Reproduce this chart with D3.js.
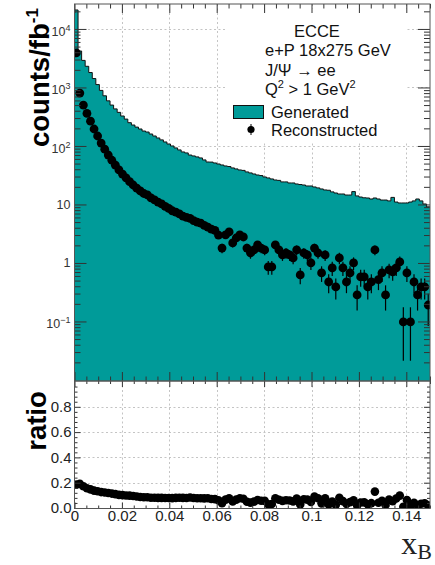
<!DOCTYPE html>
<html><head><meta charset="utf-8">
<script src="https://cdn.jsdelivr.net/npm/d3@7"></script>
<style>body{margin:0;background:#fff}svg{display:block}</style>
</head><body>
<svg id="c" width="435" height="565"></svg>
<script>
// ---------------- data ----------------
const xRange = [0, 0.15];
const nBins = 100;
const generated = [
21100,4200,2900,2300,1800,1420,1120,890,720,590,
500,430,375,325,288,250,228,210,195,180,
173,160,148,137,127,117,108,100,92.5,85.5,
79,76,70,67.5,65,62.4,57.7,53.2,53,51.2,
49.2,47.3,45.5,44.5,42.1,40.5,38.9,38.2,36,34.6,
33.2,31.9,31.2,29.5,28.4,27.3,26.2,25.8,24.3,24.3,
23.3,23.3,22.4,21.9,21.5,20.7,20.7,19.9,19.2,18.4,
17.7,17.5,16.4,15.7,15.1,15.1,14.5,14.5,16.6,14,
13.4,13.0,12.9,12.4,12.9,12.4,11.9,11.9,11.5,13.2,
11,10.6,10.6,10.6,11,11.5,12.4,11.5,10.2,9.1];
const reconstructed = [
3900,800,500,360,265,195,148,112,88,70,
57,47,39,33,28.5,24.5,21.5,19,17,15.4,
14.6,13,12,11,10.2,9.3,8.6,7.8,7.4,6.9,
6.3,6.0,5.8,5.3,5.0,4.8,4.4,4.1,3.8,3.6,
3.0,1.80,3.01,3.39,2.20,2.67,3.01,2.78,1.80,1.48,
1.67,2.03,1.80,1.67,0.855,0.855,2.03,1.67,1.37,1.48,
1.37,1.22,1.67,0.624,1.48,1.37,1.0,1.80,1.48,0.675,
1.37,0.473,0.822,0.389,1.22,0.822,0.473,0.675,1.0,0.284,
0.577,0.577,0.389,0.473,1.67,0.52,0.675,0.284,0.759,0.702,
0.822,1.04,0.098,0.675,0.098,0.473,0.284,0.389,0.389,0.191];
const eventWeight = 0.06;               // per-event weight (fb^-1 normalisation)
const xTickValues = [0,0.02,0.04,0.06,0.08,0.1,0.12,0.14];
const xTickLabels = ["0","0.02","0.04","0.06","0.08","0.1","0.12","0.14"];
const logDecades = [0.1,1,10,100,1000,10000];
const ratioTickValues = [0,0.2,0.4,0.6,0.8];
const ratioTickLabels = ["0.0","0.2","0.4","0.6","0.8"];
const legendTexts = ["ECCE","e+P 18x275 GeV","J/\u03A8 \u2192 ee"];

// ---------------- layout ----------------
const svg = d3.select("#c");
const L = 74.5, R = 430, T0 = 4, T1 = 381, B0 = 381, B1 = 508.5;
const TEAL = "#009b99";
const x = d3.scaleLinear(xRange, [L, R]);
const yTop = d3.scaleLog([0.0096, 26700], [T1, T0]);
const yBot = d3.scaleLinear([0, 1], [508, 381.5]);
const bw = (xRange[1]-xRange[0]) / nBins;
const bins = d3.range(nBins).map(i => ({
  lo: xRange[0] + i*bw, hi: xRange[0] + (i+1)*bw, c: xRange[0] + (i+0.5)*bw,
  g: generated[i], r: reconstructed[i], ratio: reconstructed[i]/generated[i]
}));
const FONT = "'Liberation Sans', Arial, Helvetica, sans-serif";

const defs = svg.append("defs");
defs.append("clipPath").attr("id","clipTop").append("rect").attr("x",L).attr("y",T0).attr("width",R-L).attr("height",T1-T0);
defs.append("clipPath").attr("id","clipBot").append("rect").attr("x",L).attr("y",B0).attr("width",R-L).attr("height",B1-B0);

// ---------------- grids ----------------
const grid = svg.append("g").attr("stroke","#c4c4c4").attr("stroke-width",1).attr("stroke-dasharray","2,2.5");
xTickValues.slice(1).forEach(v => {
  grid.append("line").attr("x1",Math.round(x(v))+0.5).attr("x2",Math.round(x(v))+0.5).attr("y1",T0).attr("y2",T1);
  grid.append("line").attr("x1",Math.round(x(v))+0.5).attr("x2",Math.round(x(v))+0.5).attr("y1",B0).attr("y2",B1);
});
logDecades.forEach(v => grid.append("line").attr("x1",L).attr("x2",R).attr("y1",Math.round(yTop(v))+0.5).attr("y2",Math.round(yTop(v))+0.5));
ratioTickValues.slice(1).forEach(v => grid.append("line").attr("x1",L).attr("x2",R).attr("y1",Math.round(yBot(v))+0.5).attr("y2",Math.round(yBot(v))+0.5));

// legend background (hides grid)
svg.append("rect").attr("x",226).attr("y",9).attr("width",181).attr("height",134).attr("fill","#fff");

// ---------------- histogram ----------------
const topG = svg.append("g").attr("clip-path","url(#clipTop)");
const yBase = yTop.domain()[0];
let pts = [[x(bins[0].lo), yTop(yBase)]];
bins.forEach(b => { pts.push([x(b.lo), yTop(b.g)]); pts.push([x(b.hi), yTop(b.g)]); });
pts.push([x(bins[nBins-1].hi), yTop(yBase)]);
const line = d3.line();
topG.append("path").attr("d", line(pts) + "Z").attr("fill", TEAL).attr("stroke","none");
topG.append("path").attr("d", line(pts.slice(1, -1))).attr("fill","none").attr("stroke","#111").attr("stroke-width",1);

// reconstructed points with errors
const pg = topG.append("g");
bins.forEach(b => {
  const err = Math.sqrt(b.r * eventWeight);
  const lo = Math.max(b.r - err, yBase);
  pg.append("line").attr("x1",x(b.c)).attr("x2",x(b.c)).attr("y1",yTop(lo)).attr("y2",yTop(b.r+err))
    .attr("stroke","#000").attr("stroke-width",1.2);
});
pg.selectAll("circle").data(bins).join("circle")
  .attr("cx", d => x(d.c)).attr("cy", d => yTop(d.r)).attr("r",4.4).attr("fill","#000");

// ratio points
const botG = svg.append("g").attr("clip-path","url(#clipBot)");
botG.selectAll("circle").data(bins).join("circle")
  .attr("cx", d => x(d.c)).attr("cy", d => yBot(d.ratio)).attr("r",4.3).attr("fill","#000");

// ---------------- axes / ticks ----------------
const TC = "#333";
function styleAxis(g){ g.select(".domain").remove(); g.selectAll(".tick line").attr("stroke",TC); g.selectAll("text").attr("font-family",FONT).attr("fill","#222"); }
const minorX = d3.range(0, 0.1500001, 0.005).filter(v => !xTickValues.some(t => Math.abs(t-v)<1e-9));
svg.append("g").attr("transform",`translate(0,${T0})`).call(d3.axisTop(x).tickValues(xTickValues).tickSize(-9).tickFormat("")).call(styleAxis);
svg.append("g").attr("transform",`translate(0,${T0})`).call(d3.axisTop(x).tickValues(minorX).tickSize(-4.5).tickFormat("")).call(styleAxis);
svg.append("g").attr("transform",`translate(0,${T1})`).call(d3.axisBottom(x).tickValues(xTickValues).tickSize(-9).tickFormat("")).call(styleAxis);
svg.append("g").attr("transform",`translate(0,${T1})`).call(d3.axisBottom(x).tickValues(minorX).tickSize(-4.5).tickFormat("")).call(styleAxis);
svg.append("g").attr("transform",`translate(0,${B0})`).call(d3.axisTop(x).tickValues(xTickValues).tickSize(-6).tickFormat("")).call(styleAxis);
svg.append("g").attr("transform",`translate(0,${B0})`).call(d3.axisTop(x).tickValues(minorX).tickSize(-3).tickFormat("")).call(styleAxis);
svg.append("g").attr("transform",`translate(0,${B1})`).call(d3.axisBottom(x).tickValues(minorX).tickSize(-3).tickFormat("")).call(styleAxis);
svg.append("g").attr("transform",`translate(0,${B1})`)
  .call(d3.axisBottom(x).tickValues(xTickValues).tickSize(-6).tickPadding(2).tickFormat((d,i)=>xTickLabels[i]))
  .call(styleAxis).call(g => g.selectAll("text").attr("font-size",15));

const minorLog = [];
[0.01,0.1,1,10,100,1000,10000].forEach(d => { for(let k=2;k<=9;k++){ const v=d*k; if(v>yTop.domain()[0] && v<yTop.domain()[1]) minorLog.push(v);} });
svg.append("g").attr("transform",`translate(${L},0)`).call(d3.axisLeft(yTop).tickValues(minorLog).tickSize(-6).tickFormat("")).call(styleAxis);
svg.append("g").attr("transform",`translate(${R},0)`).call(d3.axisRight(yTop).tickValues(minorLog).tickSize(-6).tickFormat("")).call(styleAxis);
svg.append("g").attr("transform",`translate(${R},0)`).call(d3.axisRight(yTop).tickValues(logDecades).tickSize(-12).tickFormat("")).call(styleAxis);
svg.append("g").attr("transform",`translate(${L},0)`)
  .call(d3.axisLeft(yTop).tickValues(logDecades).tickSize(-12).tickPadding(4).tickFormat(""))
  .call(styleAxis)
  .call(g => g.selectAll(".tick text").each(function(d){
     const t = d3.select(this).attr("font-size",12.5).attr("fill","#333");
     const e = Math.round(Math.log10(d));
     if (e === 0) t.text("1");
     else if (e === 1) t.text("10");
     else { t.text("10"); t.append("tspan").attr("dy",-5).attr("font-size",9).text(e < 0 ? "\u2212" + (-e) : e); t.attr("dy","0.5em"); }
  }));

const minorR = d3.range(0.04, 1, 0.04).filter(v => !ratioTickValues.some(t => Math.abs(t-v)<1e-9) && Math.abs(v-1)>1e-9);
svg.append("g").attr("transform",`translate(${L},0)`).call(d3.axisLeft(yBot).tickValues(minorR).tickSize(-3).tickFormat("")).call(styleAxis);
svg.append("g").attr("transform",`translate(${R},0)`).call(d3.axisRight(yBot).tickValues(minorR).tickSize(-3).tickFormat("")).call(styleAxis);
svg.append("g").attr("transform",`translate(${R},0)`).call(d3.axisRight(yBot).tickValues(ratioTickValues.slice(1)).tickSize(-6).tickFormat("")).call(styleAxis);
svg.append("g").attr("transform",`translate(${L},0)`)
  .call(d3.axisLeft(yBot).tickValues(ratioTickValues).tickSize(-6).tickPadding(3).tickFormat((d,i)=>ratioTickLabels[i]))
  .call(styleAxis).call(g => g.selectAll("text").attr("font-size",15));

svg.append("rect").attr("x",L).attr("y",T0).attr("width",R-L).attr("height",T1-T0).attr("fill","none").attr("stroke","#555").attr("stroke-width",1);
svg.append("rect").attr("x",L).attr("y",B0).attr("width",R-L).attr("height",B1-B0).attr("fill","none").attr("stroke","#555").attr("stroke-width",1);

// ---------------- titles ----------------
const yt = svg.append("text").attr("transform","translate(49,147) rotate(-90)")
  .attr("font-family",FONT).attr("font-weight","bold").attr("font-size",27.5).attr("fill","#000");
yt.append("tspan").text("counts/fb");
yt.append("tspan").attr("dy",-11).attr("font-size",17).text("-1");
svg.append("text").attr("transform","translate(46,421) rotate(-90)").attr("text-anchor","middle")
  .attr("font-family",FONT).attr("font-weight","bold").attr("font-size",27.5).attr("fill","#000").text("ratio");
const xt = svg.append("text").attr("x",432).attr("y",554).attr("text-anchor","end")
  .attr("font-family","'Liberation Serif','Times New Roman',serif").attr("font-size",32).attr("fill","#222");
xt.append("tspan").text("x");
xt.append("tspan").attr("dy",5).attr("font-size",22).text("B");

// ---------------- legend ----------------
const lg = svg.append("g").attr("font-family",FONT).attr("font-size",16.5).attr("fill","#111");
lg.append("text").attr("x",294).attr("y",37).text(legendTexts[0]);
lg.append("text").attr("x",265).attr("y",56).text(legendTexts[1]);
lg.append("text").attr("x",265).attr("y",75.5).text(legendTexts[2]);
const q = lg.append("text").attr("x",265).attr("y",95);
q.append("tspan").text("Q");
q.append("tspan").attr("dy",-7).attr("font-size",11).text("2");
q.append("tspan").attr("dy",7).text(" > 1 GeV");
q.append("tspan").attr("dy",-7).attr("font-size",11).text("2");
lg.append("rect").attr("x",233.5).attr("y",105.5).attr("width",30).attr("height",13).attr("fill",TEAL).attr("stroke","#111");
lg.append("text").attr("x",271).attr("y",117.5).text("Generated");
lg.append("line").attr("x1",251).attr("x2",251).attr("y1",124).attr("y2",135).attr("stroke","#000");
lg.append("circle").attr("cx",251).attr("cy",129.5).attr("r",3.6).attr("fill","#000");
lg.append("text").attr("x",271).attr("y",135.5).text("Reconstructed");
</script>
</body></html>
